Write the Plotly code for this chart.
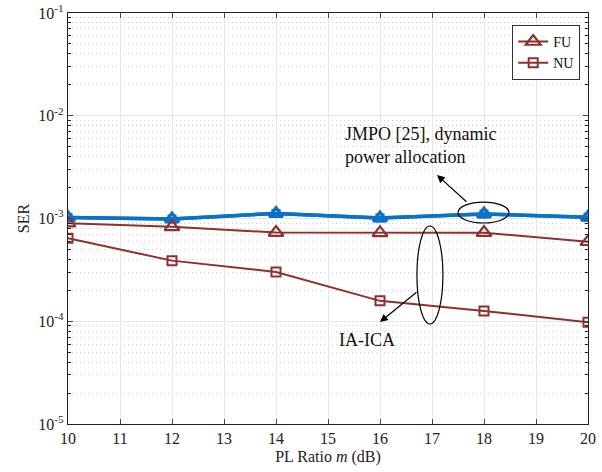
import plotly.graph_objects as go
import numpy as np

pl_ratio = [10, 12, 14, 16, 18, 20]
ser_fu_iaica = [0.90e-3, 0.83e-3, 0.73e-3, 0.725e-3, 0.728e-3, 0.594e-3]
ser_nu_iaica = [0.641e-3, 0.389e-3, 0.302e-3, 0.158e-3, 0.126e-3, 0.098e-3]
ser_fu_jmpo = [1.02e-3, 0.99e-3, 1.12e-3, 1.01e-3, 1.107e-3, 1.03e-3]
ser_nu_jmpo = [1.02e-3, 0.99e-3, 1.12e-3, 1.01e-3, 1.107e-3, 1.03e-3]
y_tickvals = [1e-5, 1e-4, 1e-3, 1e-2, 1e-1]
y_ticktext = ["10<sup>-5</sup>", "10<sup>-4</sup>", "10<sup>-3</sup>", "10<sup>-2</sup>", "10<sup>-1</sup>"]
x_tickvals = list(range(10, 21))

RED = "#8C3030"
BLUE = "#0A72C6"
FONT = "Liberation Serif, Times New Roman, DejaVu Serif, serif"

fig = go.Figure()
fig.add_trace(go.Scatter(x=pl_ratio, y=ser_fu_jmpo, mode="lines+markers", showlegend=False,
                         line=dict(color=BLUE, width=3.5),
                         marker=dict(symbol="triangle-up-open", size=12, color=BLUE, line=dict(width=3))))
fig.add_trace(go.Scatter(x=pl_ratio, y=ser_nu_jmpo, mode="lines+markers", showlegend=False,
                         line=dict(color=BLUE, width=3.5),
                         marker=dict(symbol="square-open", size=7, color=BLUE, line=dict(width=2))))
fig.add_trace(go.Scatter(x=pl_ratio, y=ser_fu_iaica, mode="lines+markers", name="FU",
                         line=dict(color=RED, width=2),
                         marker=dict(symbol="triangle-up-open", size=13, color=RED, line=dict(width=2.2))))
fig.add_trace(go.Scatter(x=pl_ratio, y=ser_nu_iaica, mode="lines+markers", name="NU",
                         line=dict(color=RED, width=2),
                         marker=dict(symbol="square-open", size=9, color=RED, line=dict(width=2))))

# ellipses (data coordinates)
fig.add_shape(type="circle", xref="x", yref="y", x0=17.50, x1=18.48,
              y0=10**-3.044, y1=10**-2.840, line=dict(color="black", width=1.2))
fig.add_shape(type="circle", xref="x", yref="y", x0=16.71, x1=17.21,
              y0=10**-4.027, y1=10**-3.073, line=dict(color="black", width=1.2))

# arrows
fig.add_annotation(x=17.096, y=-2.577, xref="x", yref="y", text="", showarrow=True,
                   ax=31, ay=28, arrowhead=2, arrowsize=1.3, arrowwidth=1.2, arrowcolor="black")
fig.add_annotation(x=16.0, y=-4.007, xref="x", yref="y", text="", showarrow=True,
                   ax=38, ay=-31, arrowhead=2, arrowsize=1.3, arrowwidth=1.2, arrowcolor="black")

# texts
fig.add_annotation(x=15.29, y=-2.285, xref="x", yref="y", xanchor="left", yanchor="middle",
                   align="left", showarrow=False,
                   text="JMPO [25], dynamic<br>power allocation",
                   font=dict(family=FONT, size=18, color="#111"))
fig.add_annotation(x=15.17, y=-4.182, xref="x", yref="y", xanchor="left", yanchor="middle",
                   showarrow=False, text="IA-ICA",
                   font=dict(family=FONT, size=18, color="#111"))

fig.update_layout(
    width=602, height=472,
    margin=dict(l=68, r=14, t=13, b=48),
    paper_bgcolor="white", plot_bgcolor="white",
    font=dict(family=FONT, size=15, color="#222"),
    legend=dict(x=0.985, y=0.971, xanchor="right", yanchor="top",
                bgcolor="white", bordercolor="#333", borderwidth=1,
                font=dict(family=FONT, size=14, color="#111"),
                tracegroupgap=0, itemwidth=30),
    xaxis=dict(range=[10, 20], tickvals=x_tickvals, ticks="inside", ticklen=5,
               automargin=False,
               showline=True, linecolor="#222", linewidth=1.2, mirror="ticks",
               showgrid=True, gridcolor="#e6e6e6", gridwidth=1, zeroline=False,
               title=dict(text="PL Ratio <i>m</i> (dB)", font=dict(family=FONT, size=16), standoff=4),
               tickfont=dict(family=FONT, size=16, color="#222")),
    yaxis=dict(type="log", range=[-5, -1], tickvals=y_tickvals, ticktext=y_ticktext,
               ticks="inside", ticklen=5, automargin=False,
               showline=True, linecolor="#222", linewidth=1.2, mirror="ticks",
               showgrid=True, gridcolor="#e6e6e6", gridwidth=1, zeroline=False,
               minor=dict(dtick="D1", ticks="inside", ticklen=3, showgrid=True,
                          griddash="1px,3px", gridcolor="#cccccc", gridwidth=1, tickcolor="#222"),
               title=dict(text="SER", font=dict(family=FONT, size=16), standoff=4),
               tickfont=dict(family=FONT, size=16, color="#222")),
)

fig.write_html("out.html")
